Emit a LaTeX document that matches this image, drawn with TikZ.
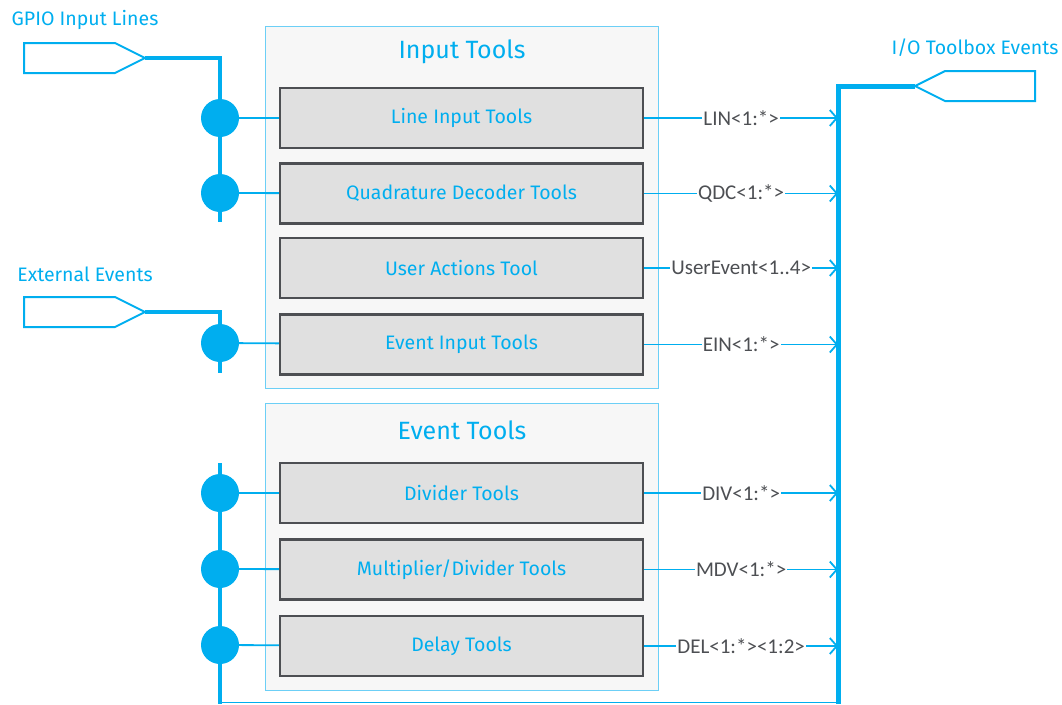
\documentclass[tikz,border=0pt]{standalone}
\usepackage{fontspec}
\setmainfont{Fira Sans}
\newfontfamily\lblfont{Carlito}
\usepackage{tikz}
\usetikzlibrary{arrows.meta,positioning}
\usepackage{xcolor}
\definecolor{iobl}{HTML}{00AEEF}
\definecolor{panelbd}{HTML}{6CCFF6}
\definecolor{panelfill}{HTML}{F7F7F7}
\definecolor{boxfill}{HTML}{E0E0E0}
\definecolor{boxbd}{HTML}{4D4F53}
\definecolor{lbltxt}{HTML}{4D4F53}

\begin{document}
\begin{tikzpicture}[
  x=1pt, y=-1pt,
  panel/.style={draw=panelbd, fill=panelfill, line width=1pt,
              minimum width=393pt, inner sep=0pt},
  paneltitle/.style={text=iobl, font=\fontsize{25}{29}\selectfont, inner sep=0pt},
  toolbox/.style={draw=boxbd, fill=boxfill, line width=2.5pt,
              minimum width=363pt, minimum height=60pt, inner sep=0pt,
              text=iobl, font=\fontsize{19.5}{23}\selectfont},
  dot/.style={circle, fill=iobl, minimum size=38pt, inner sep=0pt},
  bus/.style={draw=iobl, line width=4pt},
  thinln/.style={draw=iobl, line width=1.8pt},
  port/.style={draw=iobl, line width=2pt, line join=miter},
  portlbl/.style={text=iobl, font=\fontsize{19.5}{23}\selectfont, inner sep=0pt},
  lbl/.style={fill=white, text=lbltxt, inner sep=1pt,
              font=\lblfont\fontsize{21}{24}\selectfont},
  arr/.style={-{Straight Barb[length=7pt,width=16pt,line width=1.8pt]},
              draw=iobl, line width=1.8pt},
]
\useasboundingbox (0,0) rectangle (1062,704);

% panels
\node[panel, minimum height=362pt] (inpanel) at (461.5,207) {};
\node[panel, minimum height=287pt] (evpanel) at (461.5,546.5) {};
\node[paneltitle] (intitle) at (462,52) {Input Tools};
\node[paneltitle] (evtitle) at (462,430) {Event Tools};

% input tools
\node[toolbox] (lin) at (461.5,118) {Line Input Tools};
\node[toolbox, below=13pt of lin] (qdc) {Quadrature Decoder Tools};
\node[toolbox, below=12pt of qdc] (usr) {User Actions Tool};
\node[toolbox, below=14pt of usr] (ein) {Event Input Tools};

% event tools
\node[toolbox] (div) at (461.5,493) {Divider Tools};
\node[toolbox, below=14pt of div] (mdv) {Multiplier/Divider Tools};
\node[toolbox, below=14pt of mdv] (del) {Delay Tools};

% GPIO input lines
\coordinate (gpiotip) at (145,58);
\draw[port] (gpiotip) -- ++(-30,-15) -- ++(-91,0) -- ++(0,30) -- ++(91,0) -- cycle;
\node[portlbl] (gpiolbl) at (85,20) {GPIO Input Lines};
\draw[bus, line join=miter] (gpiotip) -- (220,58) -- (220,222);
\node[dot] (dlin) at (220,118) {};
\node[dot] (dqdc) at (220,193) {};
\draw[thinln] (dlin) -- (lin);
\draw[thinln] (dqdc) -- (qdc);

% external events
\coordinate (exttip) at (145,312);
\draw[port] (exttip) -- ++(-30,-15) -- ++(-91,0) -- ++(0,30) -- ++(91,0) -- cycle;
\node[portlbl] (extlbl) at (85,274) {External Events};
\draw[bus, line join=miter] (exttip) -- (220,312) -- (220,373);
\node[dot] (dein) at (220,343) {};
\draw[thinln] (dein) -- (ein);

% event tool inputs
\draw[bus] (220,463) -- (220,704);
\node[dot] (ddiv) at (220,493) {};
\node[dot] (dmdv) at (220,569) {};
\node[dot] (ddel) at (220,645) {};
\draw[thinln] (ddiv) -- (div);
\draw[thinln] (dmdv) -- (mdv);
\draw[thinln] (ddel) -- (del);

% I/O toolbox events
\coordinate (rbus) at (838,86);
\coordinate (outtip) at (915,86);
\draw[port] (outtip) -- ++(30,-15) -- ++(90,0) -- ++(0,30) -- ++(-90,0) -- cycle;
\node[portlbl] (outlbl) at (975,48) {I/O Toolbox Events};
\draw[bus, line width=5pt, line join=miter] (outtip) -- (rbus) -- (838,704);
\draw[thinln] (220,702.5) -- (838,702.5);

\draw[arr] (lin) -- (lin -| rbus) node[midway, lbl] {LIN<1:*>};
\draw[arr] (qdc) -- (qdc -| rbus) node[midway, lbl] {QDC<1:*>};
\draw[arr] (usr) -- (usr -| rbus) node[midway, lbl] {UserEvent<1..4>};
\draw[arr] (ein) -- (ein -| rbus) node[midway, lbl] {EIN<1:*>};
\draw[arr] (div) -- (div -| rbus) node[midway, lbl] {DIV<1:*>};
\draw[arr] (mdv) -- (mdv -| rbus) node[midway, lbl] {MDV<1:*>};
\draw[arr] (del) -- (del -| rbus) node[midway, lbl] {DEL<1:*><1:2>};
\end{tikzpicture}
\end{document}
